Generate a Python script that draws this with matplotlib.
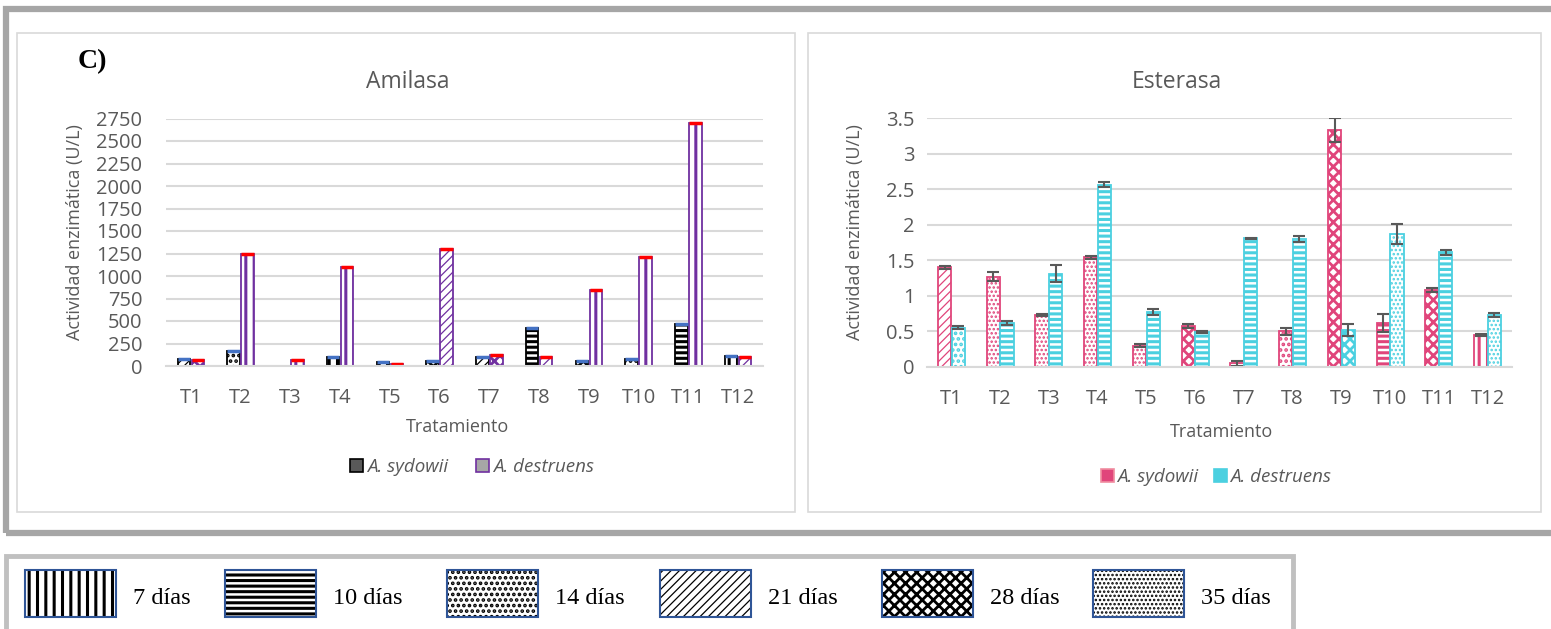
import matplotlib
matplotlib.use('Agg')
import matplotlib.pyplot as plt
from matplotlib.patches import Rectangle, Patch
from matplotlib.ticker import FuncFormatter
import numpy as np

plt.rcParams['font.family'] = ['Open Sans', 'DejaVu Sans']
plt.rcParams['hatch.linewidth'] = 2.0

W, H = 1551, 629

tratamientos = ['T1', 'T2', 'T3', 'T4', 'T5', 'T6', 'T7', 'T8', 'T9', 'T10', 'T11', 'T12']

# Amilasa (U/L)
amilasa_sydowii = [75, 170, 0, 100, 45, 60, 100, 420, 60, 75, 465, 110]
amilasa_destruens = [70, 1240, 70, 1100, 25, 1300, 125, 100, 850, 1215, 2700, 100]
amilasa_dias_syd = [21, 14, 7, 7, 7, 28, 21, 10, 28, 14, 10, 7]
amilasa_dias_des = [28, 7, 7, 7, 7, 21, 28, 21, 7, 7, 7, 21]

# Esterasa (U/L)
esterasa_sydowii = [1.40, 1.27, 0.73, 1.54, 0.30, 0.58, 0.05, 0.50, 3.33, 0.62, 1.08, 0.45]
esterasa_sydowii_err = [0.02, 0.065, 0.01, 0.02, 0.02, 0.03, 0.03, 0.055, 0.17, 0.125, 0.025, 0.02]
esterasa_destruens = [0.55, 0.62, 1.31, 2.56, 0.77, 0.49, 1.81, 1.80, 0.52, 1.87, 1.61, 0.73]
esterasa_destruens_err = [0.02, 0.03, 0.12, 0.035, 0.04, 0.01, 0.01, 0.04, 0.08, 0.14, 0.04, 0.03]
esterasa_dias_syd = [21, 35, 35, 35, 35, 28, 35, 14, 28, 10, 28, 7]
esterasa_dias_des = [14, 10, 10, 10, 10, 10, 10, 10, 28, 35, 10, 35]

dias = [7, 10, 14, 21, 28, 35]
dias_labels = ['7 días', '10 días', '14 días', '21 días', '28 días', '35 días']
hatch_dias = {7: '||', 10: '---', 14: '...', 21: '////', 28: 'xxx', 35: '....'}
hatch_lw = {7: 2.2, 10: 2.2, 14: 1.8, 21: 0.9, 28: 2.0, 35: 1.2}

gris = '#595959'
grid_c = '#d9d9d9'


def fx(x):
    return x / W


def fy(y):
    return 1 - y / H


def poner_trama(p, d):
    p.set_hatch(hatch_dias[d])
    if hasattr(p, 'set_hatch_linewidth'):
        p.set_hatch_linewidth(hatch_lw[d])


fig = plt.figure(figsize=(W / 100, H / 100), dpi=100)

# marcos
fig.add_artist(Rectangle((fx(5.5), fy(532.5)), fx(1600), fy(9) - fy(532.5), transform=fig.transFigure,
                         fill=False, ec='#a6a6a6', lw=4.5))
fig.add_artist(Rectangle((fx(17), fy(512)), fx(778), fy(33) - fy(512), transform=fig.transFigure,
                         fill=False, ec=grid_c, lw=1.2))
fig.add_artist(Rectangle((fx(808), fy(512)), fx(733), fy(33) - fy(512), transform=fig.transFigure,
                         fill=False, ec=grid_c, lw=1.2))


def estilo(ax, ymax, step, pad_y):
    ax.set_xlim(-0.5, 11.5)
    ax.set_ylim(0, ymax)
    ax.set_yticks(np.arange(0, ymax + step / 2, step))
    ax.yaxis.set_major_formatter(FuncFormatter(lambda v, p: '{:g}'.format(round(v, 2))))
    ax.set_xticks(range(12))
    ax.set_xticklabels(tratamientos)
    for s in ['top', 'right', 'left']:
        ax.spines[s].set_visible(False)
    ax.spines['bottom'].set_color(grid_c)
    ax.spines['bottom'].set_linewidth(1.5)
    ax.grid(axis='y', color=grid_c, lw=1.5)
    ax.set_axisbelow(True)
    ax.tick_params(axis='both', length=0, labelsize=14.5, colors=gris)
    ax.tick_params(axis='y', pad=pad_y)
    ax.tick_params(axis='x', pad=16)


# ---- Amilasa ----
ax1 = fig.add_axes([fx(166), fy(366), fx(763 - 166), fy(118.5) - fy(366)])
estilo(ax1, 2750, 250, 17)
x = np.arange(12)
w = 0.25
b1 = ax1.bar(x - 0.14, amilasa_sydowii, w, facecolor='white', edgecolor='black', lw=1.3)
b2 = ax1.bar(x + 0.14, amilasa_destruens, w, facecolor='white', edgecolor='#7030a0', lw=1.3)
for b, d in zip(b1, amilasa_dias_syd):
    poner_trama(b, d)
for b, d in zip(b2, amilasa_dias_des):
    poner_trama(b, d)
vs = np.array(amilasa_sydowii, dtype=float)
vd = np.array(amilasa_destruens, dtype=float)
m = vs > 0
ax1.hlines(vs[m], x[m] - 0.14 - w / 2, x[m] - 0.14 + w / 2, colors='#4472c4', lw=2.5)
ax1.hlines(vd, x + 0.14 - w / 2, x + 0.14 + w / 2, colors='#ff0000', lw=2.5)

fig.text(fx(408), fy(82), 'Amilasa', ha='center', va='center', fontsize=16.5, color=gris)
fig.text(fx(75), fy(232), 'Actividad enzimática (U/L)', rotation=90, ha='center', va='center',
         fontsize=13, color=gris)
fig.text(fx(457), fy(427), 'Tratamiento', ha='center', va='center', fontsize=13, color=gris)
fig.text(fx(92), fy(62), 'C)', ha='center', va='center', fontsize=20, fontweight='bold',
         family='Liberation Serif')
h1 = [Patch(facecolor=gris, edgecolor='black', lw=1.2), Patch(facecolor='#a6a6a6', edgecolor='#7030a0', lw=1.2)]
fig.legend(h1, ['A. sydowii', 'A. destruens'], loc='center', bbox_to_anchor=(fx(472), fy(467)), ncol=2,
           frameon=False, prop={'style': 'italic', 'size': 13.5}, labelcolor=gris,
           handlelength=0.7, handleheight=0.7, handletextpad=0.2, columnspacing=1.5)

# ---- Esterasa ----
ax2 = fig.add_axes([fx(927), fy(367), fx(1512 - 927), fy(118) - fy(367)])
estilo(ax2, 3.5, 0.5, 9)
w2 = 0.27
rosa = '#e0457b'
cian = '#4bd0e0'
c1 = ax2.bar(x - 0.14, esterasa_sydowii, w2, facecolor='white', edgecolor=rosa, lw=1.3)
c2 = ax2.bar(x + 0.14, esterasa_destruens, w2, facecolor='white', edgecolor=cian, lw=1.3)
for b, d in zip(c1, esterasa_dias_syd):
    poner_trama(b, d)
for b, d in zip(c2, esterasa_dias_des):
    poner_trama(b, d)
ax2.errorbar(x - 0.14, esterasa_sydowii, yerr=esterasa_sydowii_err, fmt='none', ecolor=gris,
             elinewidth=1.5, capsize=4.5, capthick=1.5)
ax2.errorbar(x + 0.14, esterasa_destruens, yerr=esterasa_destruens_err, fmt='none', ecolor=gris,
             elinewidth=1.5, capsize=4.5, capthick=1.5)

fig.text(fx(1177), fy(82), 'Esterasa', ha='center', va='center', fontsize=16.5, color=gris)
fig.text(fx(855), fy(232), 'Actividad enzimática (U/L)', rotation=90, ha='center', va='center',
         fontsize=13, color=gris)
fig.text(fx(1221), fy(432), 'Tratamiento', ha='center', va='center', fontsize=13, color=gris)
h2 = [Patch(facecolor=rosa, edgecolor='#f08ca0', lw=1.2), Patch(facecolor=cian, edgecolor=cian, lw=1.2)]
fig.legend(h2, ['A. sydowii', 'A. destruens'], loc='center', bbox_to_anchor=(fx(1216), fy(477)), ncol=2,
           frameon=False, prop={'style': 'italic', 'size': 13.5}, labelcolor=gris,
           handlelength=0.7, handleheight=0.7, handletextpad=0.2, columnspacing=0.8)

# ---- leyenda de días ----
fig.add_artist(Rectangle((fx(5.5), fy(680)), fx(1293 - 5.5), fy(556) - fy(680), transform=fig.transFigure,
                         fill=False, ec='#c0c0c0', lw=3.5))
leg_x = [25, 225, 447, 660, 882, 1093]
for d, lab, x0 in zip(dias, dias_labels, leg_x):
    r = Rectangle((fx(x0), fy(617)), fx(91), fy(570) - fy(617), transform=fig.transFigure,
                  facecolor='white', edgecolor='black', lw=0)
    poner_trama(r, d)
    fig.add_artist(r)
    fig.add_artist(Rectangle((fx(x0), fy(617)), fx(91), fy(570) - fy(617), transform=fig.transFigure,
                             fill=False, edgecolor='#2f5597', lw=1.5))
    fig.text(fx(x0 + 108), fy(599), lab, ha='left', va='center', fontsize=17.5, family='Liberation Serif')

fig.savefig('out.png', dpi=100)
